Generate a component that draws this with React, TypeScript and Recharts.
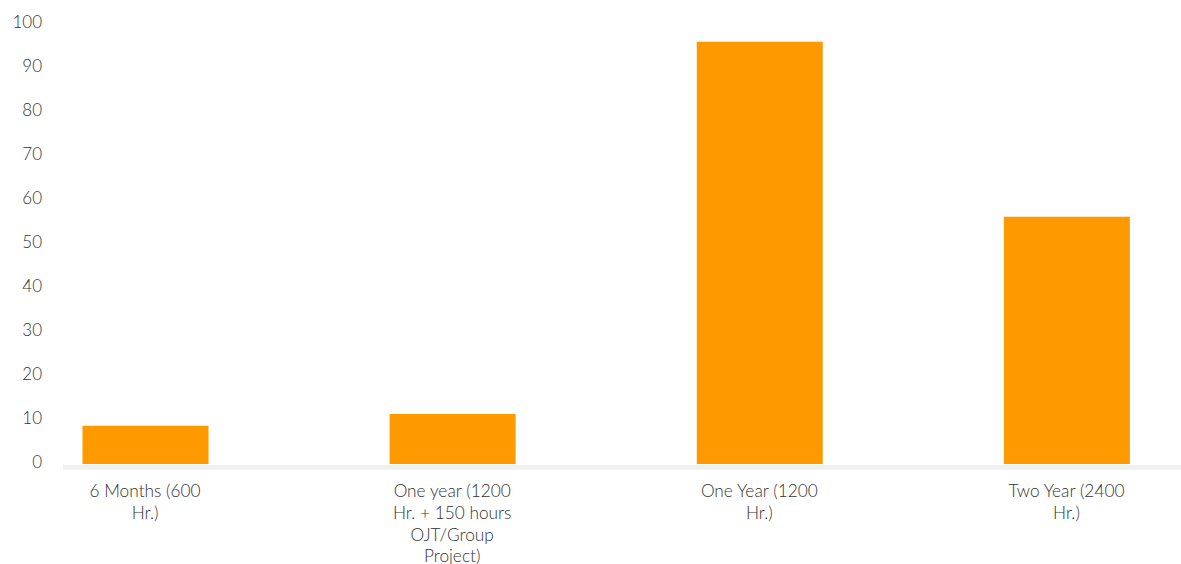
import { BarChart, Bar, XAxis, YAxis } from 'recharts';

// programme durations (one wrapped line per array entry)
const programs = [
  ['6 Months (600', 'Hr.)'],
  ['One year (1200', 'Hr. + 150 hours', 'OJT/Group', 'Project)'],
  ['One Year (1200', 'Hr.)'],
  ['Two Year (2400', 'Hr.)'],
];
const shares = [8.7, 11.4, 96.1, 56.3];
const yTicks = [0, 10, 20, 30, 40, 50, 60, 70, 80, 90, 100];

const data = programs.map((lines, i) => ({ name: lines.join(' '), lines, value: shares[i] }));

const FONT = 'Lato, "Open Sans", sans-serif';
const TEXT = '#333333';

const CategoryTick = ({ x, y, index }: any) => {
  const lines = programs[index] || [];
  return (
    <text x={x} y={y} textAnchor="middle" fill={TEXT} fontFamily={FONT} fontSize={17.3} fontWeight={300}>
      {lines.map((l, i) => (
        <tspan key={i} x={x} dy={i === 0 ? 25 : 21.8}>{l}</tspan>
      ))}
    </text>
  );
};

const ValueTick = ({ x, y, payload }: any) => (
  <text x={x} y={y} dy={-3} textAnchor="end" dominantBaseline="central" fill={TEXT}
    fontFamily={FONT} fontSize={17} fontWeight={300}>
    {payload.value}
  </text>
);

export default function App() {
  // pinned to the window corner so the page never scrolls; the chart runs
  // past the right edge so the base line reaches the border
  return (
    <div style={{ position: 'fixed', left: 0, top: 0, width: 1181, height: 564, overflow: 'hidden', background: '#fff' }}>
      <BarChart width={1200} height={564} data={data} margin={{ top: 24.7, right: 0, bottom: 0, left: 0 }}>
        <XAxis
          dataKey="name"
          height={100}
          tick={<CategoryTick />}
          tickLine={false}
          interval={0}
          padding={{ left: -71.5, right: -20 }}
          axisLine={{ stroke: '#f0f0f0', strokeWidth: 4.7, transform: 'translate(0,3.3)' }}
        />
        <YAxis
          width={63}
          domain={[0, 100]}
          ticks={yTicks}
          tick={<ValueTick />}
          tickSize={0}
          tickMargin={21}
          axisLine={false}
          tickLine={false}
        />
        <Bar dataKey="value" fill="#ff9900" barSize={126} isAnimationActive={false} />
      </BarChart>
    </div>
  );
}
